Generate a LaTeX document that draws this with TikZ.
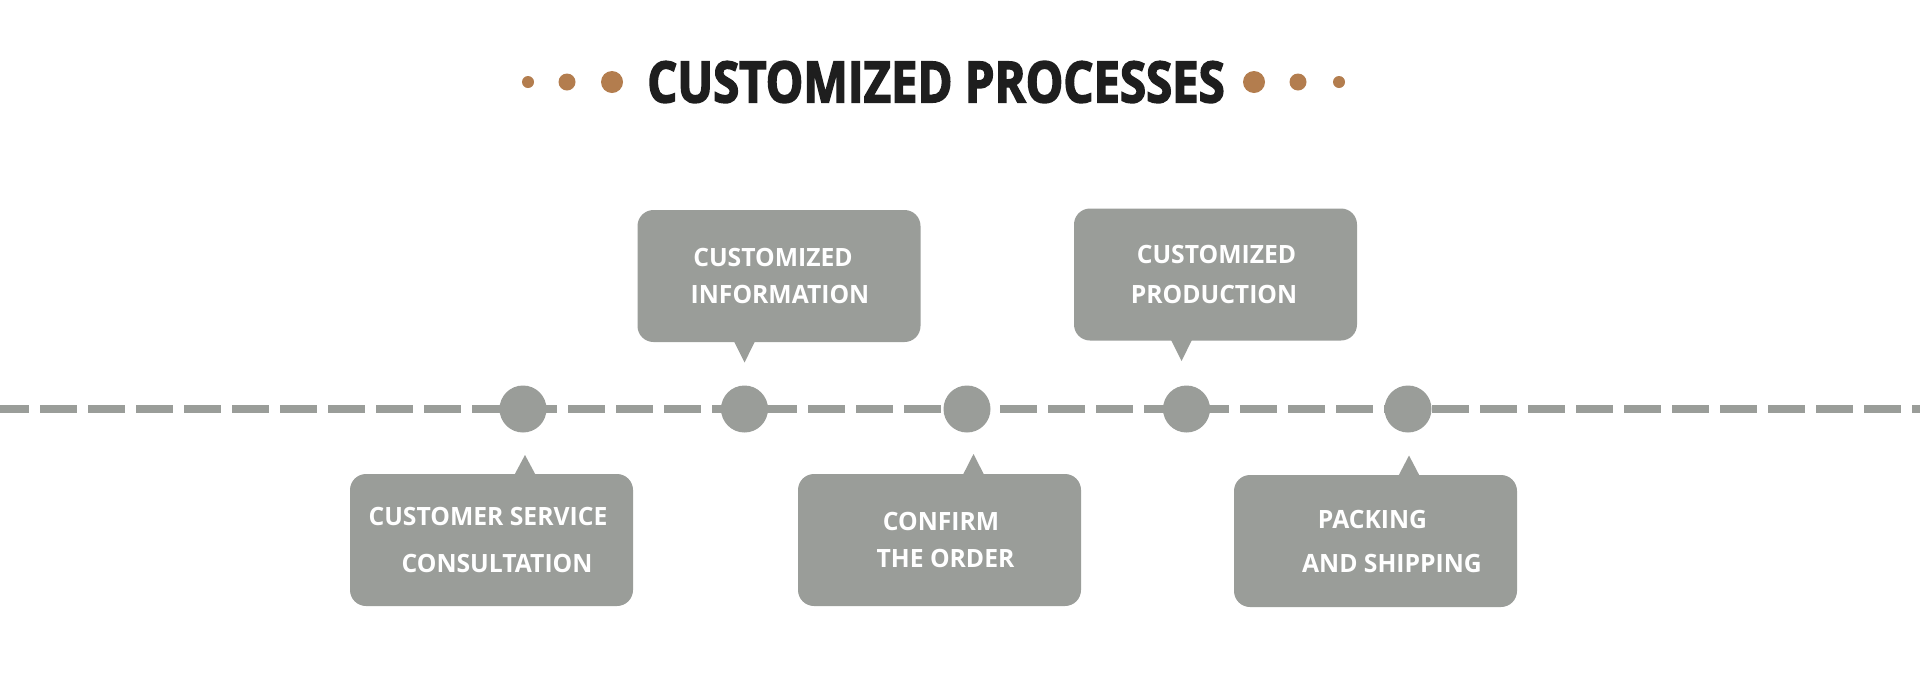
\documentclass[tikz,border=0pt]{standalone}
\usepackage{fontspec}
\setmainfont{Open Sans}[FakeStretch=0.98]
\newfontfamily\titlefont{Open Sans}[FakeStretch=0.83, BoldFeatures={FakeBold=2.6}]
\usetikzlibrary{positioning}

\definecolor{stepgray}{HTML}{9A9D99}
\definecolor{dotbrown}{HTML}{B37D4E}
\definecolor{titleblack}{HTML}{1E1E1E}

\tikzset{
  stepdot/.style={circle, fill=stepgray, minimum size=23.5pt, inner sep=0pt},
  infobox/.style={rounded corners=8pt, fill=stepgray, minimum width=141.5pt, minimum height=66pt,
    inner sep=0pt, text=white, align=center, font=\bfseries\fontsize{12.6}{18.5}\selectfont},
  deco/.style={circle, fill=dotbrown, inner sep=0pt},
  dashline/.style={stepgray, line width=4.15pt, dash pattern=on 18.35pt off 5.65pt, dash phase=4pt},
}

\begin{document}
\begin{tikzpicture}[x=0.5pt, y=-0.5pt]
  \useasboundingbox (0,0) rectangle (1920,687);

  % title with dots
  \node[text=titleblack, font=\titlefont\bfseries\fontsize{28.5}{30}\selectfont] (title) at (936,82) {CUSTOMIZED PROCESSES};
  \node[deco, minimum size=6pt] (dl1) at (528,82) {};
  \node[deco, minimum size=8.5pt] (dl2) at (567,82) {};
  \node[deco, minimum size=11pt] (dl3) at (612,82) {};
  \node[deco, minimum size=11pt] (dr1) at (1254,82) {};
  \node[deco, minimum size=8.5pt] (dr2) at (1298,82) {};
  \node[deco, minimum size=6pt] (dr3) at (1339,82) {};

  % time line
  \coordinate (lineL) at (0,409);
  \coordinate (lineR) at (1920,409);
  \draw[dashline] (lineL) -- (lineR);
  \foreach \n/\x in {1/523, 2/744.5, 3/967, 4/1186.5, 5/1408}
    \node[stepdot] (s\n) at (\x,409) {};

  % boxes
  \node[infobox] (b1) at (491.5,540) {\hspace*{-3.5pt}CUSTOMER SERVICE\\[4.8pt]\hspace*{5.5pt}CONSULTATION};
  \node[infobox] (b2) at (779,276) {\hspace*{-6pt}CUSTOMIZED\\[-0.2pt]\hspace*{1pt}INFORMATION};
  \node[infobox] (b3) at (939.5,540) {\hspace*{1.5pt}CONFIRM\\[0pt]\hspace*{6pt}THE ORDER};
  \node[infobox] (b4) at (1215.5,274.5) {\hspace*{1pt}CUSTOMIZED\\[1.2pt]\hspace*{-1.5pt}PRODUCTION};
  \node[infobox] (b5) at (1375.5,541) {\hspace*{-3pt}PACKING\\[3.5pt]\hspace*{16.5pt}AND SHIPPING};

  % pointers
  \coordinate (t1) at (525,455);
  \coordinate (t2) at (744.5,362.5);
  \coordinate (t3) at (973.5,454);
  \coordinate (t4) at (1181.5,361);
  \coordinate (t5) at (1409,455.5);
  \foreach \b/\t in {b2/t2, b4/t4}
    \fill[stepgray] ([shift={(-5.5pt,1pt)}]\b.south -| \t) -- (\t) -- ([shift={(5.5pt,1pt)}]\b.south -| \t) -- cycle;
  \foreach \b/\t in {b1/t1, b3/t3, b5/t5}
    \fill[stepgray] ([shift={(-5.5pt,-1pt)}]\b.north -| \t) -- (\t) -- ([shift={(5.5pt,-1pt)}]\b.north -| \t) -- cycle;
\end{tikzpicture}
\end{document}
